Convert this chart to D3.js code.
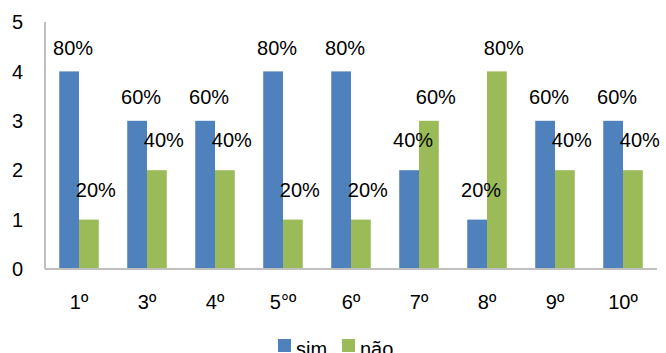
<!DOCTYPE html>
<html>
<head>
<meta charset="utf-8">
<script src="https://cdn.jsdelivr.net/npm/d3@7"></script>
<style>
  body { margin: 0; background: #fff; }
  text { font-family: "Liberation Sans", Arial, sans-serif; fill: #000; }
</style>
</head>
<body>
<div class="chart"></div>
<script>
var categories = ["1º", "3º", "4º", "5°º", "6º", "7º", "8º", "9º", "10º"];
var simValues = [4, 3, 3, 4, 4, 2, 1, 3, 3];
var naoValues = [1, 2, 2, 1, 1, 3, 4, 2, 2];
var simLabels = ["80%", "60%", "60%", "80%", "80%", "40%", "20%", "60%", "60%"];
var naoLabels = ["20%", "40%", "40%", "20%", "20%", "60%", "80%", "40%", "40%"];
var seriesNames = ["sim", "não"];
var yTicks = [0, 1, 2, 3, 4, 5];

var w = 666, h = 353;
var plotLeft = 45, plotRight = 657, plotTop = 22, plotBottom = 269;
var fontSize = "20px";
var color = d3.scaleOrdinal().domain(seriesNames).range(["#4F81BD", "#9BBB59"]);

var svg = d3.select(".chart").append("svg")
  .attr("width", w)
  .attr("height", h);

var xScale = d3.scaleBand().domain(categories).range([plotLeft, plotRight]).paddingInner(0).paddingOuter(0);
var inner = d3.scaleBand().domain(seriesNames).range([0, xScale.bandwidth()]).paddingInner(0).paddingOuter(0.72);
var yScale = d3.scaleLinear().domain([0, 5]).range([plotBottom, plotTop]);

// table built from the arrays
var rows = categories.map(function(c, i) {
  return {cat: c, vals: [
    {key: "sim", v: simValues[i], lab: simLabels[i]},
    {key: "não", v: naoValues[i], lab: naoLabels[i]}
  ]};
});

// y axis labels
svg.append("g").selectAll("text")
  .data(yTicks).enter().append("text")
  .attr("x", 23)
  .attr("y", d => yScale(d))
  .attr("dy", "0.36em")
  .attr("text-anchor", "end")
  .style("font-size", fontSize)
  .text(d => d);

var groups = svg.selectAll(".grp").data(rows).enter().append("g")
  .attr("class", "grp")
  .attr("transform", d => `translate(${xScale(d.cat)},0)`);

groups.selectAll("rect").data(d => d.vals).enter().append("rect")
  .attr("x", d => inner(d.key))
  .attr("y", d => yScale(d.v))
  .attr("width", inner.bandwidth())
  .attr("height", d => yScale(0) - yScale(d.v))
  .attr("fill", d => color(d.key));

groups.selectAll(".lab").data(d => d.vals).enter().append("text")
  .attr("class", "lab")
  .attr("x", d => inner(d.key) + inner.bandwidth() / 2 + (d.key == "sim" ? 4 : 7))
  .attr("y", d => yScale(d.v) - (d.v >= 3 ? 24 : 30))
  .attr("dy", "0.36em")
  .attr("text-anchor", "middle")
  .style("font-size", fontSize)
  .text(d => d.lab);

// axes lines
svg.append("line")
  .attr("x1", plotLeft).attr("x2", plotLeft)
  .attr("y1", plotTop).attr("y2", plotBottom)
  .attr("stroke", "#BFBFBF").attr("stroke-width", 2);
svg.append("line")
  .attr("x1", plotLeft).attr("x2", plotRight)
  .attr("y1", plotBottom).attr("y2", plotBottom)
  .attr("stroke", "#BFBFBF").attr("stroke-width", 2);

// category labels
svg.append("g").selectAll("text")
  .data(categories).enter().append("text")
  .attr("x", d => xScale(d) + xScale.bandwidth() / 2)
  .attr("y", 302)
  .attr("dy", "0.36em")
  .attr("text-anchor", "middle")
  .style("font-size", fontSize)
  .text(d => d);

// legend
var legend = svg.append("g").attr("transform", "translate(278,339)");
var lx = [0, 64];
seriesNames.forEach(function(s, i) {
  legend.append("rect")
    .attr("x", lx[i]).attr("y", 0)
    .attr("width", 13).attr("height", 13)
    .attr("fill", color(s));
  legend.append("text")
    .attr("x", lx[i] + 18).attr("y", 13)
    .attr("dy", "0.2em")
    .style("font-size", fontSize)
    .text(s);
});
</script>
</body>
</html>
